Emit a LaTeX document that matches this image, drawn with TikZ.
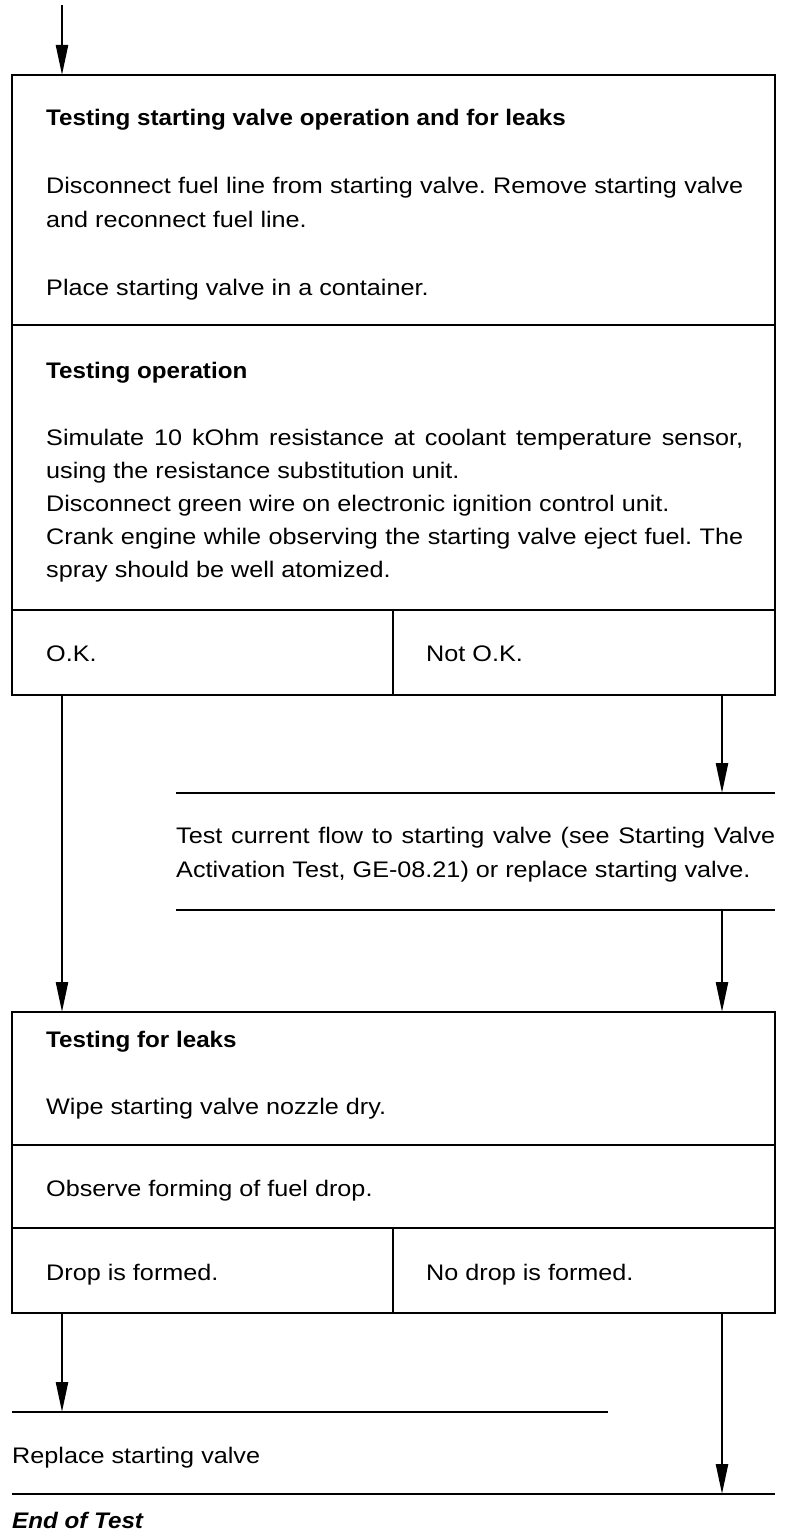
\documentclass[tikz,border=0pt]{standalone}
\usepackage{fontspec}
\setmainfont{Liberation Sans}[FakeStretch=1.12]
\newfontfamily\hb{Liberation Sans Bold}[FakeStretch=1.075]
\newfontfamily\hbi{Liberation Sans Bold Italic}[FakeStretch=1.075]
\usetikzlibrary{arrows.meta}
\frenchspacing
\newcommand{\jline}[2]{{\spaceskip=.25em plus 2em minus .2em\makebox[#1][s]{#2}}}
\begin{document}
\begin{tikzpicture}[x=1pt,y=-1pt,
  cell/.style={draw, line width=1.6pt, inner sep=0pt, outer sep=0pt, anchor=north west},
  txt/.style={anchor=base west, inner sep=0pt, font=\fontsize{22.5}{27}\selectfont},
  ttl/.style={anchor=base west, inner sep=0pt, font=\fontsize{22.5}{27}\hb},
  rulel/.style={line width=2pt},
  arr/.style={line width=2.4pt, -{Triangle[length=30pt,width=12pt]}}]
\useasboundingbox (0,0) rectangle (800,1536);
% top
\coordinate (start) at (62,5);
\coordinate (xl) at (62,0);
\coordinate (xr) at (722,0);
% box A
\node[cell, minimum width=763pt, minimum height=250pt] (sA1) at (12,75) {};
\node[cell, minimum width=763pt, minimum height=285pt] (sA2) at (12,325) {};
\node[cell, minimum width=381pt, minimum height=85pt] (okA) at (12,610) {};
\node[cell, minimum width=382pt, minimum height=85pt] (nokA) at (393,610) {};
\node[ttl] (t1) at (46,126) {Testing starting valve operation and for leaks};
\node[txt] (t2) at (46,193) {\jline{697pt}{Disconnect fuel line from starting valve. Remove starting valve}};
\node[txt] (t3) at (46,227) {and reconnect fuel line.};
\node[txt] (t4) at (46,295) {Place starting valve in a container.};
\node[ttl] (t5) at (46,378) {Testing operation};
\node[txt] (t6) at (46,445) {\jline{697pt}{Simulate 10 kOhm resistance at coolant temperature sensor,}};
\node[txt] (t7) at (46,478) {using the resistance substitution unit.};
\node[txt] (t8) at (46,511) {Disconnect green wire on electronic ignition control unit.};
\node[txt] (t9) at (46,544) {\jline{697pt}{Crank engine while observing the starting valve eject fuel. The}};
\node[txt] (t10) at (46,577) {spray should be well atomized.};
\node[txt] (ok) at (46,661) {O.K.};
\node[txt] (nok) at (426,661) {Not O.K.};
% side step
\coordinate (l1a) at (176,793); \coordinate (l1b) at (775,793);
\coordinate (l2a) at (176,910); \coordinate (l2b) at (775,910);
\draw[rulel] (l1a) -- (l1b);
\draw[rulel] (l2a) -- (l2b);
\node[txt] (t11) at (176,843) {\jline{599pt}{Test current flow to starting valve (see Starting Valve}};
\node[txt] (t12) at (176,877) {Activation Test, GE-08.21) or replace starting valve.};
% box B
\node[cell, minimum width=763pt, minimum height=133pt] (sB1) at (12,1012) {};
\node[cell, minimum width=763pt, minimum height=83pt] (sB2) at (12,1145) {};
\node[cell, minimum width=381pt, minimum height=85pt] (dropA) at (12,1228) {};
\node[cell, minimum width=382pt, minimum height=85pt] (nodrop) at (393,1228) {};
\node[ttl] (t13) at (46,1047) {Testing for leaks};
\node[txt] (t14) at (46,1114) {Wipe starting valve nozzle dry.};
\node[txt] (t15) at (46,1196) {Observe forming of fuel drop.};
\node[txt] (t16) at (46,1280) {Drop is formed.};
\node[txt] (t17) at (426,1280) {No drop is formed.};
% end
\coordinate (l3a) at (12,1412); \coordinate (l3b) at (608,1412);
\coordinate (l4a) at (12,1494); \coordinate (l4b) at (775,1494);
\draw[rulel] (l3a) -- (l3b);
\draw[rulel] (l4a) -- (l4b);
\node[txt] (t18) at (12,1463) {Replace starting valve};
\node[anchor=base west, inner sep=0pt, font=\fontsize{22.5}{27}\hbi] (t19) at (12,1528) {End of Test};
% arrows
\draw[arr] (start) -- (start |- sA1.north);
\draw[arr] (okA.south -| xl) -- (sB1.north -| xl);
\draw[arr] (nokA.south -| xr) -- (l1a -| xr);
\draw[arr] (l2a -| xr) -- (sB1.north -| xr);
\draw[arr] (dropA.south -| xl) -- (l3a -| xl);
\draw[arr] (nodrop.south -| xr) -- (l4a -| xr);
\end{tikzpicture}
\end{document}
